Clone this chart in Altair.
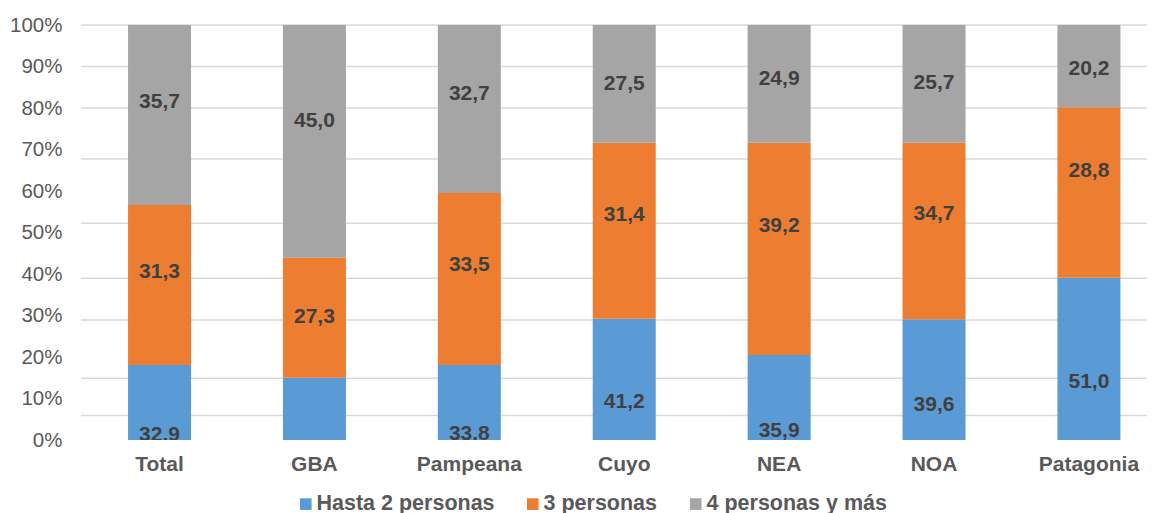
import altair as alt
import pandas as pd

regiones = ["Total", "GBA", "Pampeana", "Cuyo", "NEA", "NOA", "Patagonia"]
series = ["Hasta 2 personas", "3 personas", "4 personas y más"]
colores = ["#5B9BD5", "#ED7D31", "#A5A5A5"]

# segment heights as drawn (%)
hasta2 = [18.1, 15.0, 18.1, 29.2, 20.5, 29.1, 39.1]
tres = [38.5, 28.9, 41.4, 42.4, 51.1, 42.5, 41.1]
cuatro = [43.4, 56.1, 40.5, 28.4, 28.4, 28.4, 19.8]

# printed data labels
lab_hasta2 = ["32,9", None, "33,8", "41,2", "35,9", "39,6", "51,0"]
lab_tres = ["31,3", "27,3", "33,5", "31,4", "39,2", "34,7", "28,8"]
lab_cuatro = ["35,7", "45,0", "32,7", "27,5", "24,9", "25,7", "20,2"]

# where each printed label sits, in % units of the y scale
anc_hasta2 = [1.2, None, 1.4, 9.1, 2.2, 8.4, 13.9]
anc_tres = [40.5, 29.7, 42.2, 54.1, 51.6, 54.4, 64.9]
anc_cuatro = [81.5, 76.9, 83.3, 85.8, 87.0, 86.1, 89.3]

# gridlines as drawn (% units)
grid_vals = [100, 90, 80, 67.7, 52.2, 39.0, 28.9, 14.9, 5.9]
y_ticks = list(range(0, 101, 10))

rows = []
lab_rows = []
for si, (vals, labs, ancs) in enumerate(
    [(hasta2, lab_hasta2, anc_hasta2), (tres, lab_tres, anc_tres), (cuatro, lab_cuatro, anc_cuatro)]
):
    for r, v, l, a in zip(regiones, vals, labs, ancs):
        rows.append({"region": r, "serie": series[si], "orden": si, "valor": v})
        if l is not None:
            lab_rows.append({"region": r, "serie": series[si], "texto": l, "pos": a})

df = pd.DataFrame(rows)
df_lab = pd.DataFrame(lab_rows)
df_grid = pd.DataFrame({"g": grid_vals})

FONT = "Liberation Sans"

x_scale = alt.Scale(domain=regiones, paddingInner=0.5933, paddingOuter=0.2376, align=0.639)
y_scale = alt.Scale(domain=[0, 100], nice=False)

x_axis = alt.Axis(
    title=None, labelAngle=0, domain=False, ticks=False, labelPadding=13,
    labelFont=FONT, labelFontSize=21, labelFontWeight="bold", labelColor="#595959",
)
y_axis = alt.Axis(
    title=None, values=y_ticks, labelExpr="datum.value + '%'", grid=False,
    domain=False, ticks=False, labelPadding=19, labelFont=FONT,
    labelFontSize=20.5, labelColor="#595959",
)

grid = alt.Chart(df_grid).mark_rule(color="#D9D9D9", strokeWidth=1.5).encode(
    y=alt.Y("g:Q", scale=y_scale, axis=y_axis)
)

bars = alt.Chart(df).mark_bar().encode(
    x=alt.X("region:N", scale=x_scale, sort=regiones, axis=x_axis),
    y=alt.Y("valor:Q", stack="zero", scale=y_scale, axis=y_axis),
    color=alt.Color(
        "serie:N",
        scale=alt.Scale(domain=series, range=colores),
        legend=alt.Legend(
            title=None, orient="none", legendX=214, legendY=468, direction="horizontal",
            symbolType="square", symbolSize=136, symbolStrokeWidth=0, labelFont=FONT,
            labelFontSize=21.5, labelFontWeight="bold", labelColor="#595959",
            columnPadding=27, labelOffset=0, padding=0, labelLimit=0,
        ),
    ),
    order=alt.Order("orden:Q", sort="ascending"),
)

labels = alt.Chart(df_lab).mark_text(
    font=FONT, fontSize=21, fontWeight="bold", color="#404040", baseline="middle", clip=True
).encode(
    x=alt.X("region:N", scale=x_scale, sort=regiones, axis=x_axis),
    y=alt.Y("pos:Q", scale=y_scale, axis=y_axis),
    text="texto:N",
)

chart = alt.layer(grid, bars, labels).properties(
    width=1066,
    height=415,
    autosize=alt.AutoSizeParams(type="none"),
    padding={"left": 73, "top": 17, "right": 0, "bottom": 78},
).configure_view(stroke=None)

chart.save("out.html", embed_options={"renderer": "svg", "actions": False})
